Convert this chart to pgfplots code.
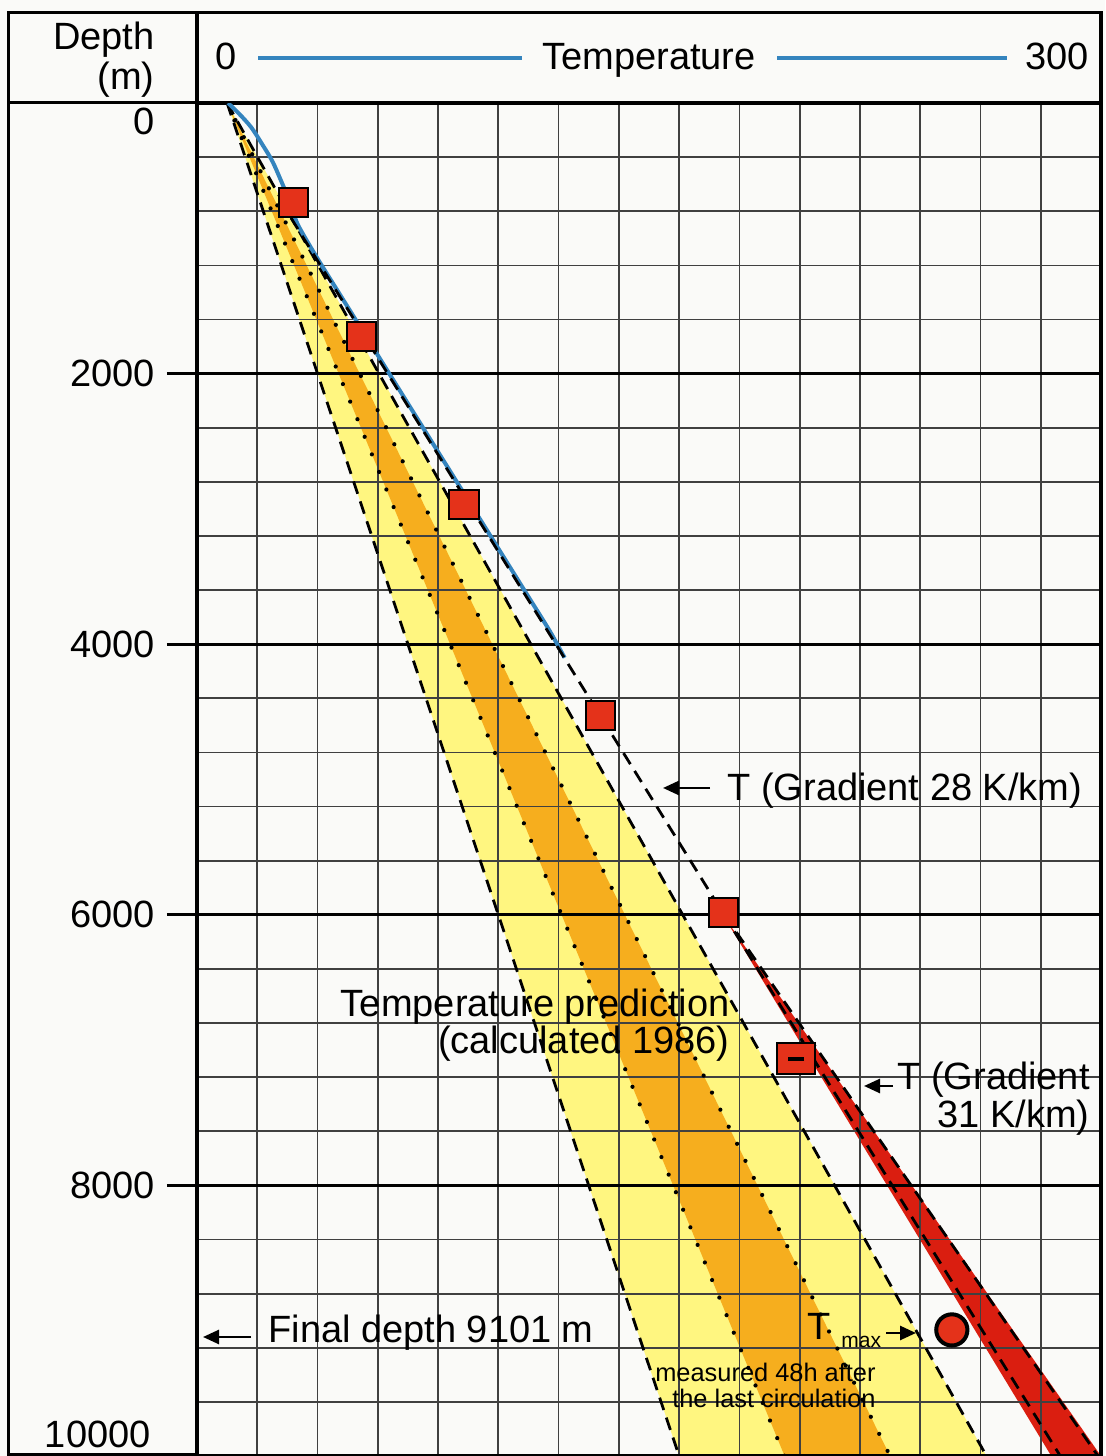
\documentclass[border=0pt]{standalone}
\usepackage{pgfplots}
\pgfplotsset{compat=1.18}
\usepackage{fontspec}
\setmainfont{Liberation Sans}
\usetikzlibrary{arrows.meta}
\definecolor{bgcol}{RGB}{250,250,248}
\definecolor{fanyellow}{RGB}{255,246,128}
\definecolor{fanorange}{RGB}{246,174,30}
\definecolor{mred}{RGB}{228,50,26}
\definecolor{bandred}{RGB}{218,30,16}
\definecolor{tblue}{RGB}{52,132,190}
\newcommand{\bigf}{\fontsize{19}{22}\selectfont}
\newcommand{\smallf}{\fontsize{12.7}{15}\selectfont}
\tikzset{
  dashln/.style={black, line width=1.4pt, dash pattern=on 6.5pt off 4pt},
  dotln/.style={black, line width=2.1pt, line cap=round, dash pattern=on 0pt off 9.5pt},
  arr/.style={-{Triangle[length=8pt,width=7pt]}, line width=1.3pt},
  lbl/.style={inner sep=0pt, font=\bigf},
  pxscope/.style={x=0.5pt,y=-0.5pt,shift={(-98.5pt,728pt)}},
}
\pgfplotsset{
  ktbframe/.style={
    at={(0pt,0pt)}, anchor=south west,
    scale only axis, width=452pt, height=676.5pt,
    xmin=0, xmax=300, ymin=0, ymax=10000,
    y dir=reverse,
  },
}
\begin{document}
\begin{tikzpicture}
\begin{scope}[pxscope]
\fill[bgcol] (0,0) rectangle (1105,1456);
\end{scope}
% ---- background axis: filled areas only
\begin{axis}[ktbframe, axis lines=none, ticks=none]
% predicted temperature fan (calculated 1986)
\addplot[draw=none, fill=fanyellow] coordinates {(10,0) (160,10000) (262,10000)};
\addplot[draw=none, fill=fanorange] coordinates {(10,0) (195,10000) (230,10000)};
% measured band between 28 and 31 K/km
\addplot[draw=none, fill=bandred] coordinates {(174.5,6000) (283.5,10000) (300,10000)};
\end{axis}
% ---- main axis: grid, lines, markers
\begin{axis}[ktbframe,
  axis line style={line width=1.6pt},
  xtick={0,300},
  xticklabels={},
  xtick style={draw=none},
  minor xtick={20,40,...,280},
  ytick={2000,4000,6000,8000},
  yticklabels={2000,4000,6000,8000},
  minor ytick={400,800,1200,1600,2400,2800,3200,3600,4400,4800,5200,5600,6400,6800,7200,7600,8400,8800,9200,9600},
  scaled y ticks=false,
  grid=both,
  major grid style={black, line width=1.6pt},
  minor grid style={black!75, line width=0.85pt},
  tick align=outside,
  ytick pos=left,
  major tick length=15pt,
  minor tick length=0pt,
  major tick style={black, line width=1.6pt},
  yticklabel style={font=\bigf, inner sep=0pt, xshift=-6pt},
  /pgf/number format/assume math mode=true,
]
% fan edges
\addplot[dashln] coordinates {(10,0) (160,10000)};
\addplot[dashln] coordinates {(10,0) (262,10000)};
\addplot[dotln] coordinates {(10,0) (195,10000)};
\addplot[dotln] coordinates {(10,0) (230,10000)};
% pilot hole temperature log
\addplot[tblue, line width=2pt, smooth] coordinates {
 (10.3,0) (14,80) (18,180) (21.5,300) (25,430) (28,580) (31,740) (33.5,900)
 (40,1150) (47,1400) (54,1650) (61,1900) (68,2150) (75,2400) (82,2650) (89,2900)
 (96,3150) (103,3400) (110,3650) (117,3900) (122,4100)};
% gradient lines
\addplot[dashln] coordinates {(31.2,850) (286.5,10000)};
\addplot[dashln] coordinates {(175,6000) (299,10000)};
% measured temperatures
\addplot[only marks, mark=square*, mark size=7.3pt, mark options={fill=mred, draw=black, line width=1pt}]
 coordinates {(32,734) (54.6,1727) (88.6,2970) (133.8,4524) (174.7,5985)};
\addplot[only marks, mark=square*, mark size=7.6pt, mark options={fill=mred, draw=black, line width=1pt, xscale=1.25}]
 coordinates {(198.8,7063)};
\addplot[only marks, mark=-, mark size=4pt, mark options={black, line width=2pt}]
 coordinates {(198.8,7063)};
\addplot[only marks, mark=*, mark size=7.8pt, mark options={fill=mred, draw=black, line width=2pt}]
 coordinates {(250.5,9068)};
\end{axis}
\begin{scope}[pxscope]
% frame
\draw[line width=1.6pt] (8.5,1456) -- (8.5,12.5) -- (1101,12.5) -- (1101,103);
\draw[line width=1.6pt] (8.5,102.5) -- (197,102.5);
\draw[line width=1.6pt] (197,12.5) -- (197,103);
\draw[line width=1.6pt] (8.5,1455) -- (197,1455);
% header
\node[lbl, anchor=base east] at (155,50) {Depth};
\node[lbl, anchor=base east] at (155,90) {(m)};
\node[lbl, anchor=base] at (226,70) {0};
\node[lbl, anchor=base] at (649,70) {Temperature};
\node[lbl, anchor=base] at (1057,70) {300};
\draw[tblue, line width=2pt] (258,58) -- (522,58);
\draw[tblue, line width=2pt] (777,58) -- (1007,58);
% end depth labels
\node[lbl, anchor=base east] at (155,135) {0};
\node[lbl, anchor=base east] at (151,1447) {10000};
% annotations
\draw[arr] (710,788) -- (663,788);
\node[lbl, anchor=base west] at (727,801) {T (Gradient 28 K/km)};
\node[lbl, anchor=base east] at (730,1017) {Temperature prediction};
\node[lbl, anchor=base east] at (730,1054) {(calculated 1986)};
\draw[arr] (893,1086) -- (864,1086);
\node[lbl, anchor=base east] at (1090,1090) {T (Gradient};
\node[lbl, anchor=base east] at (1090,1128) {31 K/km)};
\draw[arr] (251,1337) -- (203,1337);
\node[lbl, anchor=base west] at (268,1343) {Final depth 9101 m};
\node[lbl, anchor=base west] at (807,1340) {T};
\node[inner sep=0pt, anchor=base west, font=\fontsize{10.5}{12}\selectfont] at (841,1348) {max};
\draw[arr] (886,1333) -- (916,1333);
\node[inner sep=0pt, anchor=base east, font=\smallf] at (876,1382) {measured 48h after};
\node[inner sep=0pt, anchor=base east, font=\smallf] at (876,1408) {the last circulation};
\end{scope}
\pgfresetboundingbox
\path[pxscope] (0,0) rectangle (1105,1456);
\end{tikzpicture}
\end{document}
